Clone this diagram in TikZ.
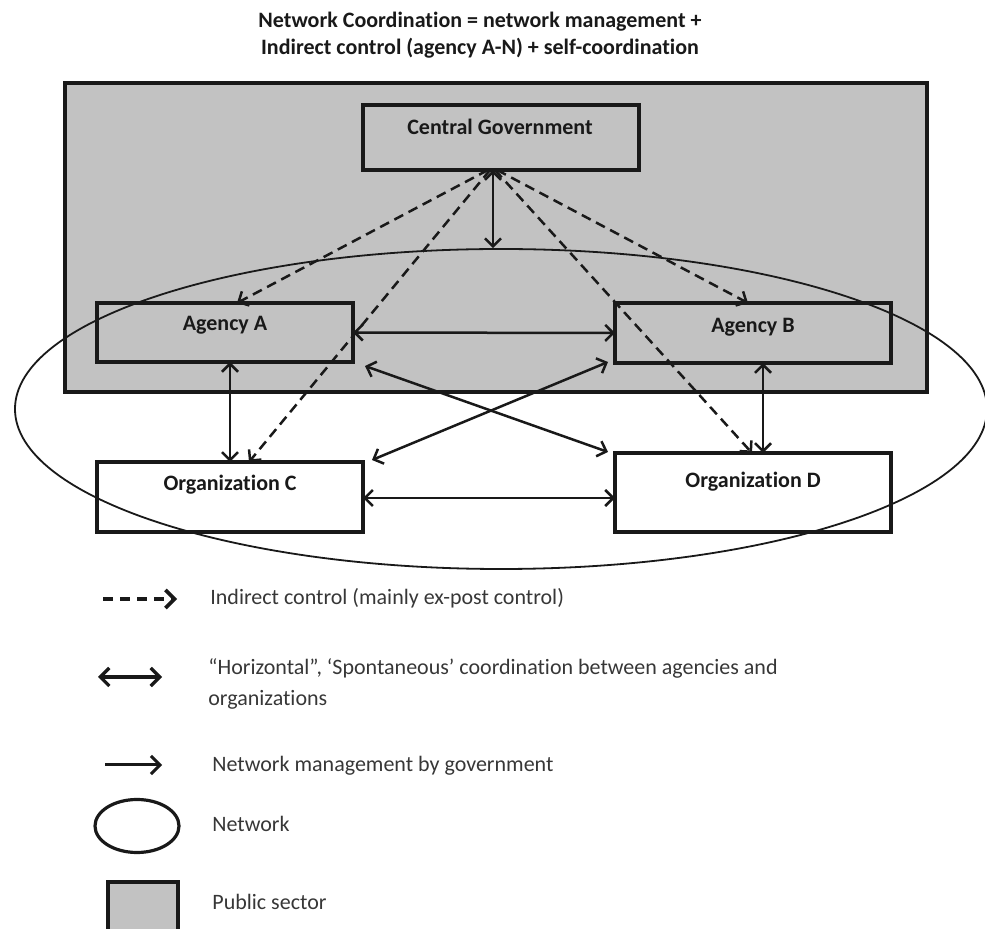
\documentclass[tikz,border=0pt]{standalone}
\usepackage{fontspec}
\setmainfont{Carlito}[Ligatures=NoCommon, RawFeature={-liga;-clig;-calt;-dlig}]
\usetikzlibrary{arrows.meta,shapes.geometric,fit,calc}
\definecolor{pubgray}{RGB}{194,194,194}
\definecolor{ink}{RGB}{25,25,25}
\definecolor{legtext}{RGB}{55,55,55}
\begin{document}
\begin{tikzpicture}[x=0.5pt,y=-0.5pt,
  >={Straight Barb[length=4pt,width=8pt]},
  box/.style={draw=ink, line width=1.8pt, inner sep=0pt, outer sep=0pt},
  boxname/.style={font=\bfseries\fontsize{11}{13}\selectfont, text=ink, inner sep=0pt, text height=8pt, text depth=2pt},
  headline/.style={font=\bfseries\fontsize{11}{13}\selectfont, text=ink, inner sep=0pt, text height=8pt, text depth=2pt},
  legtxt/.style={font=\fontsize{11}{13}\selectfont, text=legtext, anchor=west, inner sep=0pt, text height=8pt, text depth=2pt},
  twoway/.style={<->, draw=ink, line width=1.25pt},
  oneway/.style={->, draw=ink, line width=1.25pt},
  indirect/.style={->, draw=ink, line width=1.25pt, dash pattern=on 5pt off 3pt},
]
\useasboundingbox (0,0) rectangle (985,929);

% heading
\node[headline] (t1) at (480,22) {Network Coordination = network management +};
\node[headline] (t2) at (480,49) {Indirect control (agency A-N) + self-coordination};

% public sector and its members
\node[box, fill=pubgray, fit={(65,83) (927,392)}] (pub) {};
\node[box, fill=pubgray, fit={(363,105) (639,170)}] (cg) {};
\node[box, fill=pubgray, fit={(97,303) (353,362)}] (aa) {};
\node[box, fill=pubgray, fit={(615,303) (891,363)}] (ab) {};
\node[box, fill=white, fit={(97,462) (363,532)}] (oc) {};
\node[box, fill=white, fit={(615,453) (891,532)}] (od) {};

\node[boxname] (cgl) at (500,129) {Central Government};
\node[boxname] (aal) at (225,325) {Agency A};
\node[boxname] (abl) at (753,327) {Agency B};
\node[boxname] (ocl) at (230,485) {Organization C};
\node[boxname] (odl) at (753,482) {Organization D};

% the network
\node[draw=ink, ellipse, line width=0.9pt, inner sep=0pt, minimum width=486pt, minimum height=160pt] (net) at (501,409) {};

% anchor columns for the connectors
\coordinate (hub) at (493,170);
\coordinate (xA) at (237,0);
\coordinate (xC) at (249,0);
\coordinate (xB) at (748,0);
\coordinate (xD) at (752,0);
\coordinate (xAC) at (230,0);
\coordinate (xBD) at (763,0);

% network management
\draw[twoway] (hub) -- (hub |- net.north);

% indirect control
\draw[indirect] ($(hub)+(-5,0)$) -- (aa.north -| xA);
\draw[indirect] ($(hub)+(-3,0)$) -- (oc.north -| xC);
\draw[indirect] ($(hub)+(4,0)$) -- (ab.north -| xB);
\draw[indirect] ($(hub)+(2,0)$) -- (od.north -| xD);

% horizontal coordination
\draw[twoway] (aa.east) -- (ab.west);
\draw[twoway] ($(oc.east)+(0,1)$) -- ($(oc.east -| od.west)+(0,1)$);
\draw[twoway] (aa.south -| xAC) -- (oc.north -| xAC);
\draw[twoway] (ab.south -| xBD) -- (od.north -| xBD);
\draw[twoway] ($(aa.south east)+(12,4)$) -- ($(od.north west)+(-7,-1)$);
\draw[twoway] ($(oc.north east)+(9,-2)$) -- ($(ab.south west)+(-7,-1)$);

% key
\coordinate (k1a) at (103,599);
\coordinate (k1b) at (177,599);
\draw[indirect, line width=1.8pt, dash pattern=on 5pt off 3.5pt, >={Straight Barb[length=4.5pt,width=9pt]}] (k1a) -- (k1b);
\node[legtxt] (k1) at (210,599) {Indirect control (mainly ex-post control)};

\coordinate (k2a) at (98,677);
\coordinate (k2b) at (162,677);
\draw[twoway, line width=1.6pt, >={Straight Barb[length=4.5pt,width=9pt]}] (k2a) -- (k2b);
\node[legtxt] (k2) at (208,669) {“Horizontal”, ‘Spontaneous’ coordination between agencies and};
\node[legtxt] (k2c) at (208,700) {organizations};

\coordinate (k3a) at (105,765);
\coordinate (k3b) at (162,765);
\draw[oneway, line width=1.5pt, >={Straight Barb[length=4.5pt,width=9pt]}] (k3a) -- (k3b);
\node[legtxt] (k3) at (212,765) {Network management by government};

\node[draw=ink, ellipse, line width=1.6pt, inner sep=0pt, minimum width=42pt, minimum height=26.5pt] (knet) at (137,826) {};
\node[legtxt] (k4) at (212,825) {Network};

\node[box, fill=pubgray, fit={(108,882) (178,950)}] (kpub) {};
\node[legtxt] (k5) at (212,903) {Public sector};
\end{tikzpicture}
\end{document}
